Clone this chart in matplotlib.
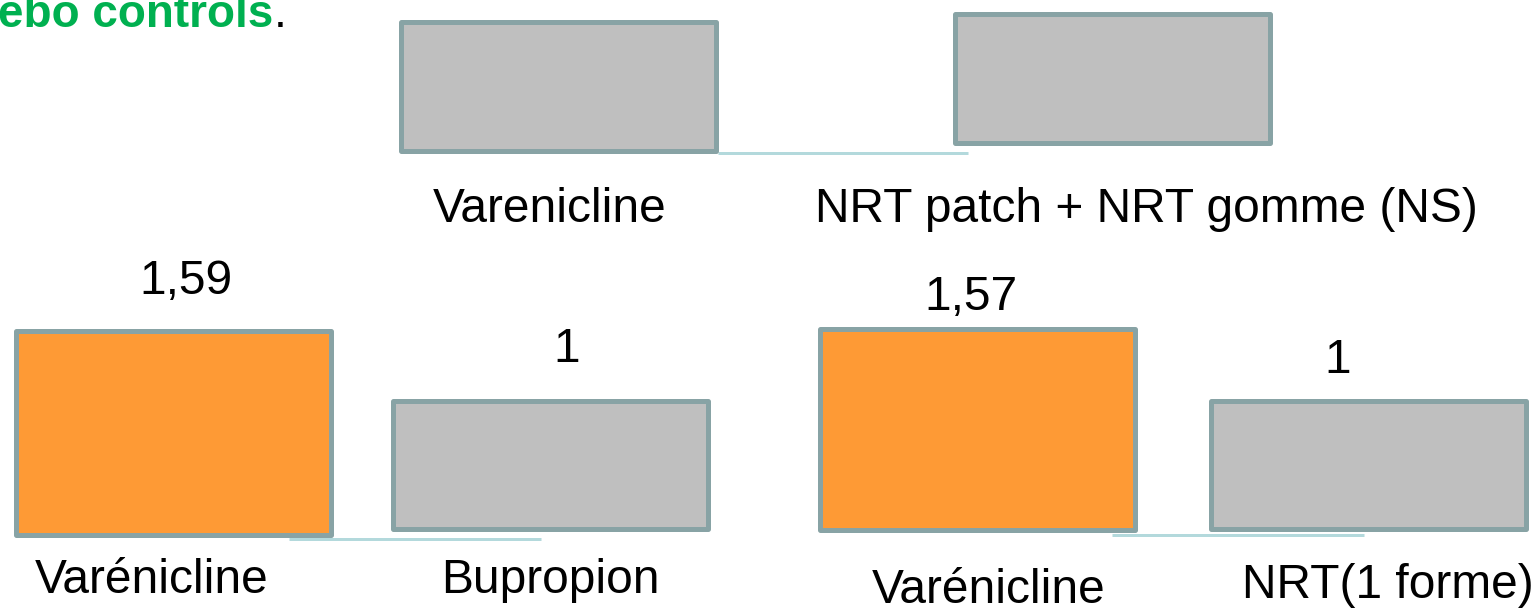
import matplotlib.pyplot as plt

plt.rcParams['font.family'] = ['Liberation Sans', 'DejaVu Sans']

# data
categories = [["Varenicline", "NRT patch + NRT gomme (NS)"],
              ["Varénicline", "Bupropion"],
              ["Varénicline", "NRT(1 forme)"]]
values = [[1.0, 1.0],
          [1.59, 1.0],
          [1.57, 1.0]]
value_labels = [[None, None],
                ["1,59", "1"],
                ["1,57", "1"]]
header = "ebo controls"

# styles
bar_colors = [["#bfbfbf", "#bfbfbf"],
              ["#fe9a35", "#bfbfbf"],
              ["#fe9a35", "#bfbfbf"]]
edge_color = "#88a3a5"
base_color = "#b3d9dc"
green = "#00b050"
FS = 34.5

# layout in pixels of the 1538x611 canvas
W, H = 1538, 611
U = 128  # pixels per unit of value
# bar1 centre, bar spacing, zero line y, lift of bar2
panel_pos = [(558, 554.5, 150.5, 8), (173, 377, 534.5, 6), (977.5, 390.5, 529.5, 1)]
bar_w = 315
base_lines = [(718, 968, 152.5), (289, 541, 539), (1112, 1364, 535)]
val_off = [[None, None], [(13, 37), (17, 38.5)], [(-6.5, 18.5), (-30, 27.5)]]
cat_off = [[(-8, 71.5), (33.5, 71.5)], [(-21, 58.5), (0, 58.5)], [(11.5, 73.5), (20, 68.5)]]

fig = plt.figure(figsize=(W / 100, H / 100), dpi=100)
PT = 0.72  # points per pixel

for p in range(3):
    c1, s, base, lift = panel_pos[p]
    x0, x1, y0, y1 = -0.8, 1.8, -0.8, 2.0
    ax = fig.add_axes([(c1 + x0 * s) / W, 1 - (base - y0 * U) / H,
                       (x1 - x0) * s / W, (y1 - y0) * U / H])
    ax.set_xlim(x0, x1)
    ax.set_ylim(y0, y1)
    ax.axis('off')

    bottoms = [0, lift / U]
    lx0, lx1, ly = base_lines[p]
    ax.plot([(lx0 - c1) / s, (lx1 - c1) / s], [(base - ly) / U] * 2,
            color=base_color, lw=3 * PT, solid_capstyle='butt', zorder=1)
    ax.bar([0, 1], values[p], width=bar_w / s, bottom=bottoms,
           color=bar_colors[p], edgecolor=edge_color, linewidth=5 * PT,
           joinstyle='round', zorder=2)

    for i in range(2):
        if value_labels[p][i]:
            dx, dy = val_off[p][i]
            ax.annotate(value_labels[p][i], xy=(i, bottoms[i] + values[p][i]),
                        xytext=(dx * PT, dy * PT), textcoords='offset points',
                        ha='center', va='baseline', fontsize=FS)
        dx, dy = cat_off[p][i]
        ax.annotate(categories[p][i], xy=(i, 0), xytext=(dx * PT, -dy * PT),
                    textcoords='offset points', ha='center', va='baseline',
                    fontsize=FS)

t = fig.text(-0.001, 1 - 27 / H, header, color=green, fontsize=33, fontweight='bold',
             ha='left', va='baseline')
fig.canvas.draw()
bb = t.get_window_extent()
fig.text(bb.x1 / W, 1 - 27 / H, ".", color='black', fontsize=33, ha='left', va='baseline')

fig.savefig("out.png", dpi=100)
